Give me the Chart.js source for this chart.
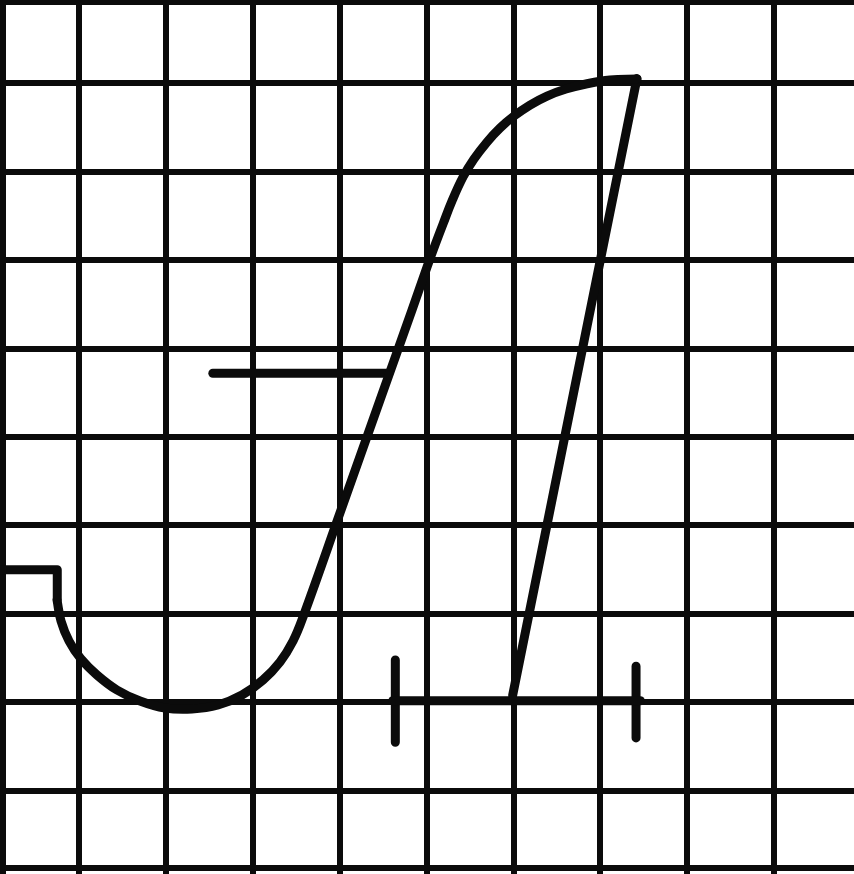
<!DOCTYPE html>
<html>
<head>
<meta charset="utf-8">
<title>Sketch on grid paper</title>
<script src="https://cdn.jsdelivr.net/npm/chart.js@4.4.1/dist/chart.umd.min.js"></script>
<style>
  html, body { margin: 0; padding: 0; background: #fff; }
  #wrap { width: 854px; height: 874px; position: relative; }
</style>
</head>
<body>
<div id="wrap"><canvas id="sketch"></canvas></div>
<script>
// grid paper lines (in grid units, edges of the sheet included)
const xGrid = [0.12, 1, 2, 3, 4, 5, 6, 7, 8, 9];
const yGrid = [0.13, 1, 2, 3, 4, 5, 6, 7, 8, 9, 9.91];

// small step at the left edge
const stepX = [0.09, 0.75, 0.75];
const stepY = [3.50, 3.50, 3.16];

// the big S-curve, from the bottom of the step up to the top flat
const curveX = [0.747, 0.793, 0.885, 1.023, 1.207, 1.437, 1.702, 1.990, 2.300, 2.600,
                2.876, 3.117, 3.313, 3.463, 3.578, 4.003, 4.464, 4.832, 5.005, 5.097,
                5.189, 5.292, 5.419, 5.545, 5.695, 5.845, 6.006, 6.190, 6.386, 6.604,
                6.834, 7.110, 7.421];
const curveY = [3.158, 2.921, 2.695, 2.492, 2.311, 2.141, 2.017, 1.938, 1.927, 1.972,
                2.085, 2.254, 2.458, 2.695, 2.966, 4.141, 5.418, 6.435, 6.921, 7.169,
                7.407, 7.667, 7.938, 8.141, 8.333, 8.492, 8.627, 8.751, 8.853, 8.932,
                8.989, 9.034, 9.045];

// straight return stroke down to the base line
const returnX = [7.42, 5.99];
const returnY = [9.05, 2.08];

// short horizontal stroke in the middle
const midBarX = [2.54, 4.56];
const midBarY = [5.72, 5.72];

// base line with its two end ticks
const baseX = [4.61, 7.46];
const baseY = [2.02, 2.02];
const tickLeftX = [4.64, 4.64];
const tickLeftY = [2.48, 1.55];
const tickRightX = [7.41, 7.41];
const tickRightY = [2.41, 1.60];

const INK = '#0b0b0b';

function toPoints(xs, ys){
  return xs.map((x, i) => ({ x, y: ys[i] }));
}

function stroke(xs, ys, smooth){
  return {
    data: toPoints(xs, ys),
    showLine: true,
    borderColor: INK,
    borderWidth: 9,
    borderCapStyle: 'round',
    borderJoinStyle: 'round',
    pointRadius: 0,
    pointHoverRadius: 0,
    fill: false,
    tension: smooth ? 0.4 : 0
  };
}

function gridAxis(lines, min, max){
  return {
    type: 'linear',
    min,
    max,
    afterBuildTicks: axis => {
      axis.ticks = lines.map(v => ({ value: v }));
    },
    ticks: { display: false },
    border: { display: false },
    grid: {
      color: INK,
      lineWidth: 6,
      drawTicks: false
    }
  };
}

new Chart(document.getElementById('sketch'), {
  type: 'scatter',
  data: {
    datasets: [
      stroke(stepX, stepY, false),
      stroke(curveX, curveY, true),
      stroke(returnX, returnY, false),
      stroke(midBarX, midBarY, false),
      stroke(baseX, baseY, false),
      stroke(tickLeftX, tickLeftY, false),
      stroke(tickRightX, tickRightY, false)
    ]
  },
  options: {
    responsive: true,
    maintainAspectRatio: false,
    animation: false,
    layout: { padding: 0 },
    plugins: {
      legend: { display: false },
      tooltip: { enabled: false }
    },
    scales: {
      x: gridAxis(xGrid, 0.091, 9.918),
      y: gridAxis(yGrid, 0.062, 9.938)
    }
  }
});
</script>
</body>
</html>
